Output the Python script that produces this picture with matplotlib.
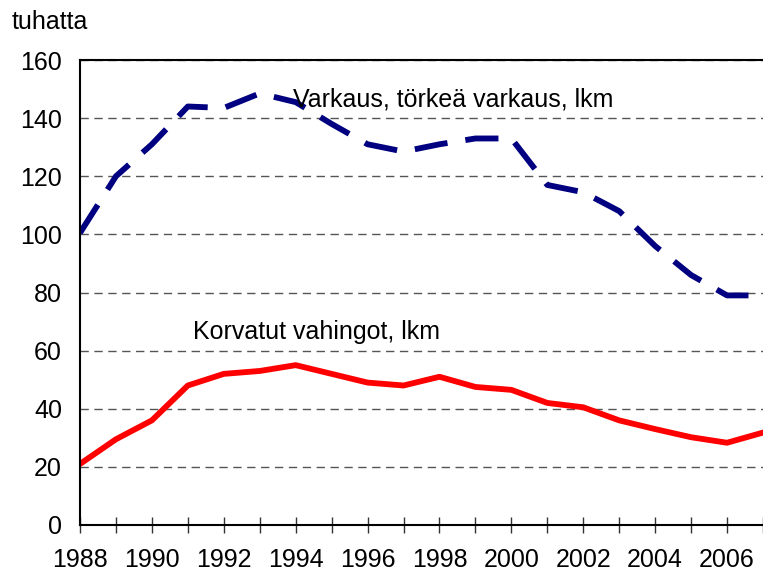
import numpy as np
import matplotlib
matplotlib.use('Agg')
import matplotlib.pyplot as plt

plt.rcParams['font.family'] = ['Liberation Sans', 'DejaVu Sans']

# vuodet ja sarjat (tuhatta)
years = np.arange(1988, 2008)
varkaus = [100.5, 120, 131, 144, 143.5, 148.5, 145.5, 138, 131, 128.5,
           131, 133, 133, 117, 114.5, 108, 96, 86, 79, 79]
korvatut = [21, 29.5, 36, 48, 52, 53, 55, 52, 49, 48,
            51, 47.5, 46.5, 42, 40.5, 36, 33, 30.2, 28.3, 31.8]

fig = plt.figure(figsize=(7.63, 5.73), dpi=100)
ax = fig.add_axes([80/763, 48/573, 1 - 80/763, 465/573])

ax.plot(years, varkaus, color='#000080', lw=4.2, dashes=(5.7, 3.1), solid_capstyle='butt')
ax.plot(years, korvatut, color='#ff0000', lw=4.2)

ax.set_xlim(1988, 1988 + (763 - 80) / 36.67)
ax.set_ylim(0, 160)
ax.set_yticks(np.arange(0, 161, 20))
ax.set_xticks(years)
ax.set_xticklabels([str(y) if y % 2 == 0 else '' for y in years])

ax.grid(axis='y', color='#555555', linestyle=(0, (6, 4)), linewidth=1)
ax.set_axisbelow(True)
ax.spines['right'].set_visible(False)
for s in ['left', 'bottom', 'top']:
    ax.spines[s].set_linewidth(1.5)

ax.tick_params(axis='y', length=0, labelsize=18, pad=13)
ax.tick_params(axis='x', direction='inout', length=11, width=1, color='#333333',
               labelsize=18, pad=11)

# tekstit kuvan pikseleinä (alhaalta ylös)
ax.text(293, 573 - 100, 'Varkaus, törkeä varkaus, lkm', transform=None, fontsize=18,
        va='center', ha='left')
ax.text(193, 573 - 332, 'Korvatut vahingot, lkm', transform=None, fontsize=18,
        va='center', ha='left')
fig.text(12 / 763, 1 - 22 / 573, 'tuhatta', fontsize=18, va='center', ha='left')

plt.savefig('out.png', dpi=100)
